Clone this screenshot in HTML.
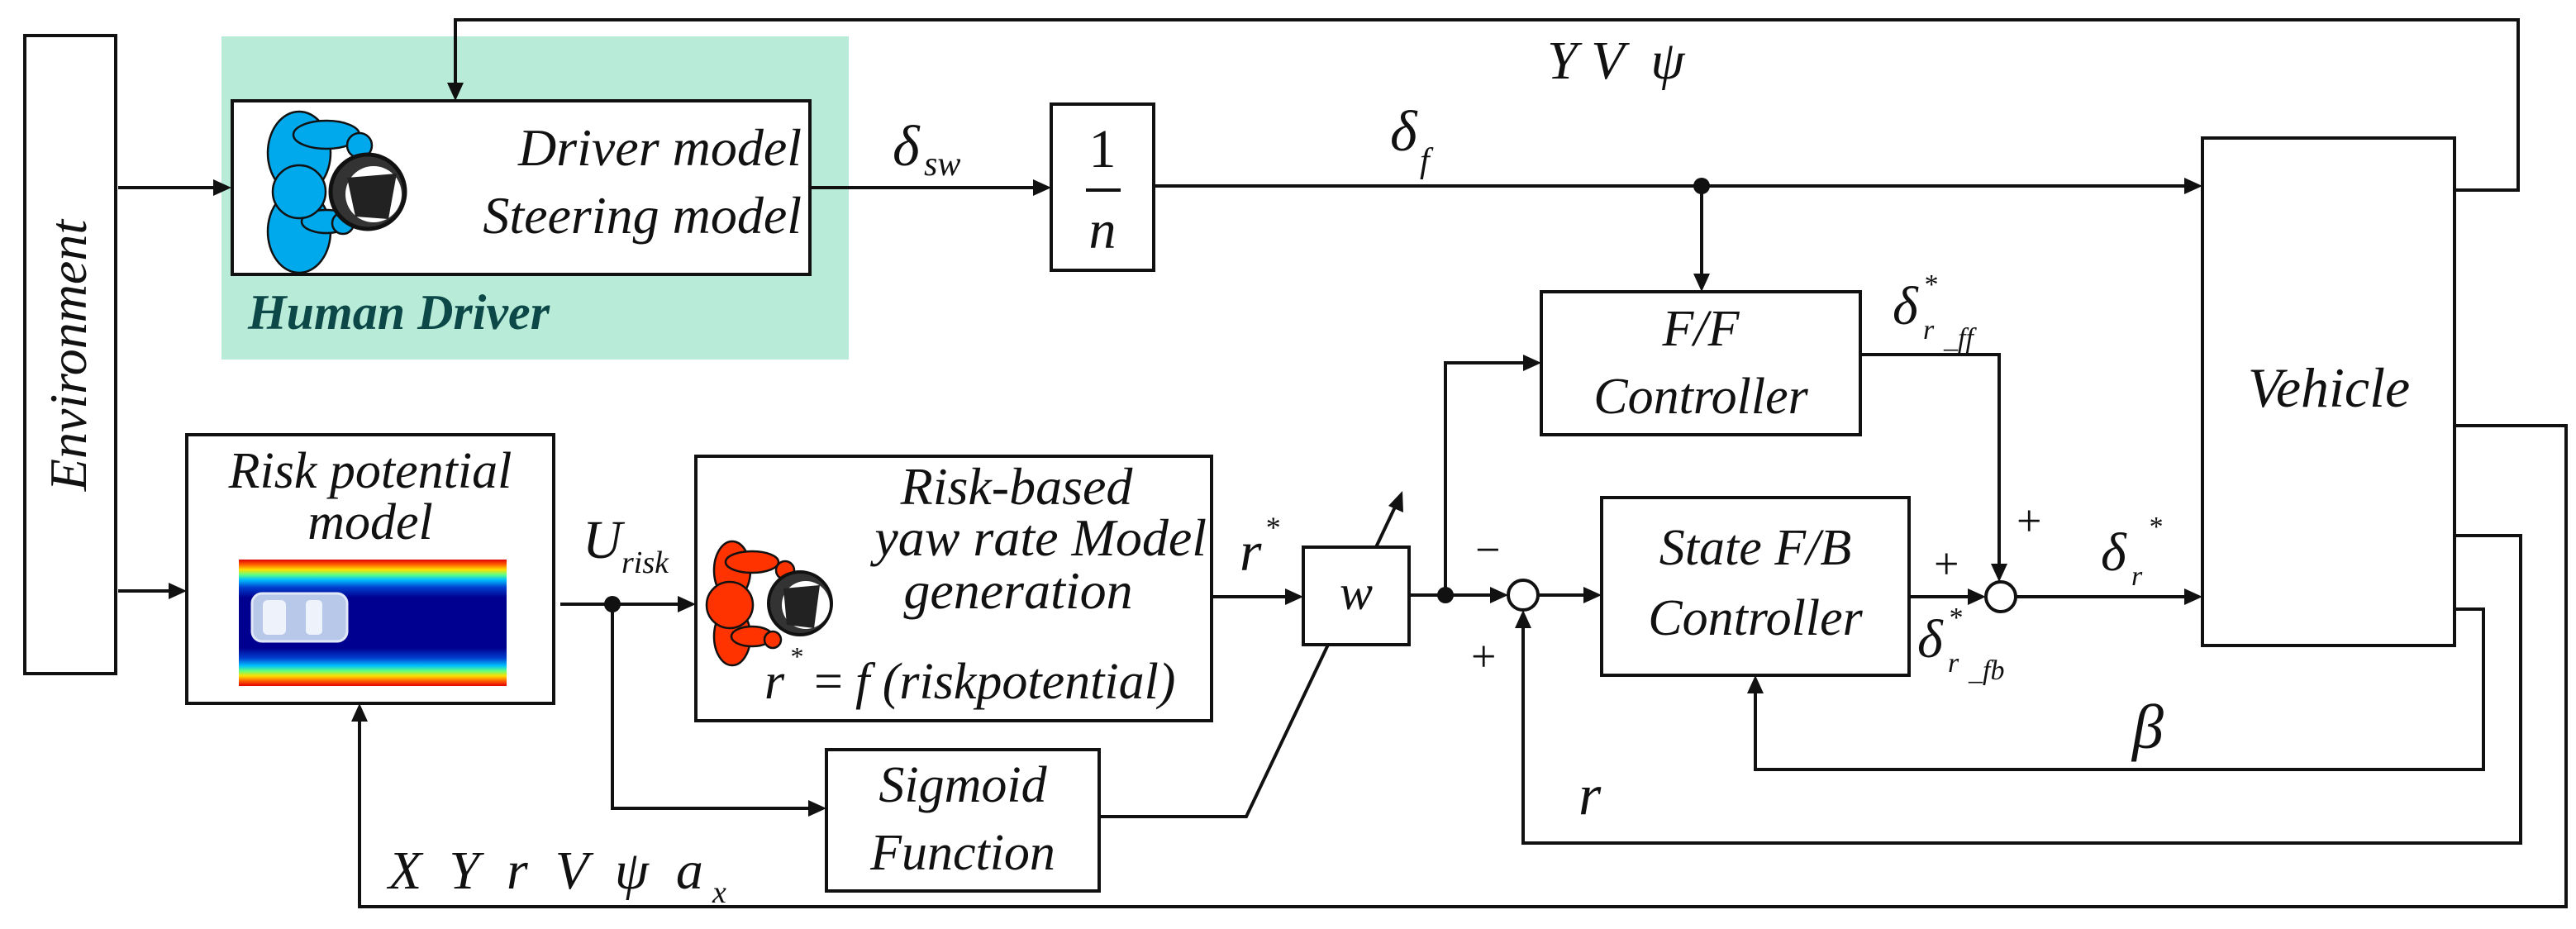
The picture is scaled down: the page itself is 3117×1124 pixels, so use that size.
<!DOCTYPE html>
<html><head><meta charset="utf-8"><style>
html,body{margin:0;padding:0;background:#fff;}
svg{display:block;}
svg text{font-family:"Liberation Serif","DejaVu Serif",serif;font-style:italic;fill:#111;}
</style></head><body>
<svg width="3117" height="1124" viewBox="0 0 3117 1124" xmlns="http://www.w3.org/2000/svg">
<defs>
<linearGradient id="hm" x1="0" y1="0" x2="0" y2="1">
<stop offset="0" stop-color="#e00000"/><stop offset="0.04" stop-color="#ff6000"/><stop offset="0.08" stop-color="#ffe000"/><stop offset="0.12" stop-color="#60ff80"/><stop offset="0.16" stop-color="#00c0ff"/><stop offset="0.22" stop-color="#0040d0"/><stop offset="0.3" stop-color="#000090"/><stop offset="0.7" stop-color="#000090"/><stop offset="0.78" stop-color="#0040d0"/><stop offset="0.84" stop-color="#00c0ff"/><stop offset="0.88" stop-color="#60ff80"/><stop offset="0.92" stop-color="#ffe000"/><stop offset="0.96" stop-color="#ff6000"/><stop offset="1" stop-color="#e00000"/>
</linearGradient>
</defs>
<g stroke="#111" stroke-width="4" fill="none">
<rect x="268" y="44" width="759" height="391" fill="#b8ecd8" stroke="none"/>
<rect x="30" y="43" width="110" height="772" fill="#fff"/>
<rect x="281" y="122" width="699" height="210" fill="#fff"/>
<rect x="1272" y="126" width="124" height="201" fill="#fff"/>
<rect x="2665" y="167" width="305" height="614" fill="#fff"/>
<rect x="1865" y="353" width="386" height="173" fill="#fff"/>
<rect x="1938" y="602" width="372" height="215" fill="#fff"/>
<rect x="1577" y="662" width="128" height="118" fill="#fff"/>
<rect x="226" y="526" width="444" height="325" fill="#fff"/>
<rect x="842" y="552" width="624" height="320" fill="#fff"/>
<rect x="1000" y="907" width="330" height="171" fill="#fff"/>
<circle cx="1843" cy="720" r="18" fill="#fff"/>
<circle cx="2421" cy="722" r="18" fill="#fff"/>
<polyline points="2970,230 3047,230 3047,24 551,24 551,110"/>
<line x1="143" y1="227" x2="266" y2="227"/>
<line x1="980" y1="227" x2="1256" y2="227"/>
<line x1="1396" y1="225" x2="2650" y2="225"/>
<line x1="2059" y1="225" x2="2059" y2="338"/>
<polyline points="2251,429 2419,429 2419,690"/>
<line x1="2310" y1="722" x2="2390" y2="722"/>
<line x1="2439" y1="722" x2="2650" y2="722"/>
<line x1="1705" y1="720" x2="1810" y2="720"/>
<line x1="1861" y1="720" x2="1924" y2="720"/>
<polyline points="1749,720 1749,439 1850,439"/>
<line x1="1665" y1="662" x2="1692" y2="605"/>
<line x1="1466" y1="722" x2="1562" y2="722"/>
<polyline points="1330,988 1508,988 1607,780"/>
<line x1="143" y1="715" x2="212" y2="715"/>
<line x1="678" y1="731" x2="822" y2="731"/>
<polyline points="741,731 741,978 986,978"/>
<polyline points="2970,515 3105,515 3105,1097 435,1097 435,866"/>
<polyline points="2970,648 3050,648 3050,1020 1843,1020 1843,752"/>
<polyline points="2970,737 3005,737 3005,931 2124,931 2124,832"/>
</g>
<g fill="#111">
<polygon points="551,122 541,100 561,100"/>
<polygon points="280,227 258,217 258,237"/>
<polygon points="1272,227 1250,217 1250,237"/>
<polygon points="2665,225 2643,215 2643,235"/>
<polygon points="2059,353 2049,331 2069,331"/>
<polygon points="2419,704 2409,682 2429,682"/>
<polygon points="2403,722 2381,712 2381,732"/>
<polygon points="2665,722 2643,712 2643,732"/>
<polygon points="1825,720 1803,710 1803,730"/>
<polygon points="1938,720 1916,710 1916,730"/>
<polygon points="1865,439 1843,429 1843,449"/>
<polygon points="1697,594 1698,620 1680,612"/>
<polygon points="1577,722 1555,712 1555,732"/>
<polygon points="226,715 204,705 204,725"/>
<polygon points="842,731 820,721 820,741"/>
<polygon points="1000,978 978,968 978,988"/>
<polygon points="435,851 425,873 445,873"/>
<polygon points="1843,738 1833,760 1853,760"/>
<polygon points="2124,817 2114,839 2134,839"/>
<circle cx="2059" cy="225" r="10"/>
<circle cx="1749" cy="720" r="10"/>
<circle cx="741" cy="731" r="10"/>
</g>
<rect x="289" y="677" width="324" height="153" fill="url(#hm)"/>
<rect x="305" y="718" width="115" height="58" rx="12" fill="#b8c8e8" stroke="#e0e8f8" stroke-width="3"/>
<rect x="318" y="726" width="28" height="42" rx="6" fill="#eef2fa"/>
<rect x="370" y="726" width="20" height="42" rx="5" fill="#eef2fa"/>
<g stroke="#111" stroke-width="2.5">
<ellipse cx="362" cy="185" rx="38" ry="50" fill="#00a8ec"/>
<ellipse cx="362" cy="280" rx="38" ry="50" fill="#00a8ec"/>
<ellipse cx="395" cy="163" rx="40" ry="17" fill="#00a8ec"/>
<circle cx="435" cy="176" r="15" fill="#00a8ec"/>
<ellipse cx="395" cy="268" rx="30" ry="14" fill="#00a8ec"/>
<circle cx="415" cy="270" r="13" fill="#00a8ec"/>
<circle cx="445" cy="232" r="45" fill="#333" stroke-width="5"/>
<circle cx="452" cy="235" r="34" fill="#fff" stroke="none"/>
<path d="M420,215 L480,210 L470,265 L430,262 Z" fill="#222" stroke="none"/>
<circle cx="362" cy="232" r="32" fill="#00a8ec"/>
</g>
<g stroke="#111" stroke-width="2.5">
<ellipse cx="886" cy="690" rx="22" ry="35" fill="#ff3300"/>
<ellipse cx="886" cy="770" rx="22" ry="35" fill="#ff3300"/>
<ellipse cx="910" cy="680" rx="32" ry="13" fill="#ff3300"/>
<circle cx="950" cy="690" r="11" fill="#ff3300"/>
<ellipse cx="910" cy="770" rx="25" ry="12" fill="#ff3300"/>
<circle cx="935" cy="774" r="10" fill="#ff3300"/>
<circle cx="968" cy="730" r="38" fill="#333" stroke-width="4"/>
<circle cx="975" cy="732" r="29" fill="#fff" stroke="none"/>
<path d="M948,712 L992,708 L985,760 L952,756 Z" fill="#222" stroke="none"/>
<circle cx="883" cy="732" r="28" fill="#ff3300"/>
</g>
<text transform="translate(104,430) rotate(-90)" text-anchor="middle" font-size="64">Environment</text>
<text x="970" y="200" text-anchor="end" font-size="64">Driver model</text>
<text x="970" y="282" text-anchor="end" font-size="64">Steering model</text>
<text x="300" y="398" font-size="60" font-weight="bold" style="fill:#0d4848">Human Driver</text>
<text x="1080" y="200" font-size="70">δ</text><text x="1118" y="212" font-size="42">sw</text>
<text x="1334" y="202" text-anchor="middle" font-size="66" style="font-style:normal">1</text>
<line x1="1314" y1="230" x2="1356" y2="230" stroke="#111" stroke-width="4"/>
<text x="1334" y="300" text-anchor="middle" font-size="66">n</text>
<text x="1682" y="182" font-size="70">δ</text><text x="1718" y="208" font-size="42">f</text>
<text x="1872" y="95" font-size="66" xml:space="preserve">Y V  ψ</text>
<text x="2818" y="492" text-anchor="middle" font-size="68">Vehicle</text>
<text x="2058" y="418" text-anchor="middle" font-size="62">F/F</text>
<text x="2058" y="500" text-anchor="middle" font-size="62">Controller</text>
<text x="2124" y="683" text-anchor="middle" font-size="62">State F/B</text>
<text x="2124" y="768" text-anchor="middle" font-size="62">Controller</text>
<text x="2290" y="392" font-size="66">δ</text><text x="2327" y="410" font-size="34">r</text><text x="2352" y="420" font-size="34">_ff</text><text x="2327" y="355" font-size="34">*</text>
<text x="2320" y="795" font-size="66">δ</text><text x="2357" y="813" font-size="34">r</text><text x="2382" y="822" font-size="34">_fb</text><text x="2357" y="758" font-size="34">*</text>
<text x="2542" y="690" font-size="66">δ</text><text x="2579" y="708" font-size="34">r</text><text x="2599" y="648" font-size="34">*</text>
<text x="2440" y="648" font-size="54" style="font-style:normal">+</text>
<text x="2340" y="700" font-size="54" style="font-style:normal">+</text>
<text x="1785" y="683" font-size="54" style="font-style:normal">−</text>
<text x="1780" y="812" font-size="54" style="font-style:normal">+</text>
<text x="1641" y="737" text-anchor="middle" font-size="60">w</text>
<text x="1500" y="690" font-size="68">r</text><text x="1530" y="650" font-size="36">*</text>
<text x="2580" y="905" font-size="76">β</text>
<text x="1910" y="985" font-size="70">r</text>
<text x="448" y="590" text-anchor="middle" font-size="62">Risk potential</text>
<text x="448" y="652" text-anchor="middle" font-size="62">model</text>
<text x="705" y="675" font-size="66">U</text><text x="752" y="693" font-size="38">risk</text>
<text x="1230" y="610" text-anchor="middle" font-size="64">Risk-based</text>
<text x="1460" y="672" text-anchor="end" font-size="64">yaw rate Model</text>
<text x="1232" y="736" text-anchor="middle" font-size="64">generation</text>
<text x="925" y="845" font-size="62">r</text><text x="955" y="805" font-size="32">*</text><text x="985" y="845" font-size="62" style="font-style:normal">=</text><text x="1035" y="845" font-size="62">f (riskpotential)</text>
<text x="1165" y="970" text-anchor="middle" font-size="62">Sigmoid</text>
<text x="1165" y="1052" text-anchor="middle" font-size="62">Function</text>
<text x="470" y="1075" font-size="66" xml:space="preserve">X  Y  r  V  ψ  a</text><text x="862" y="1092" font-size="38">x</text>
</svg>
</body></html>
